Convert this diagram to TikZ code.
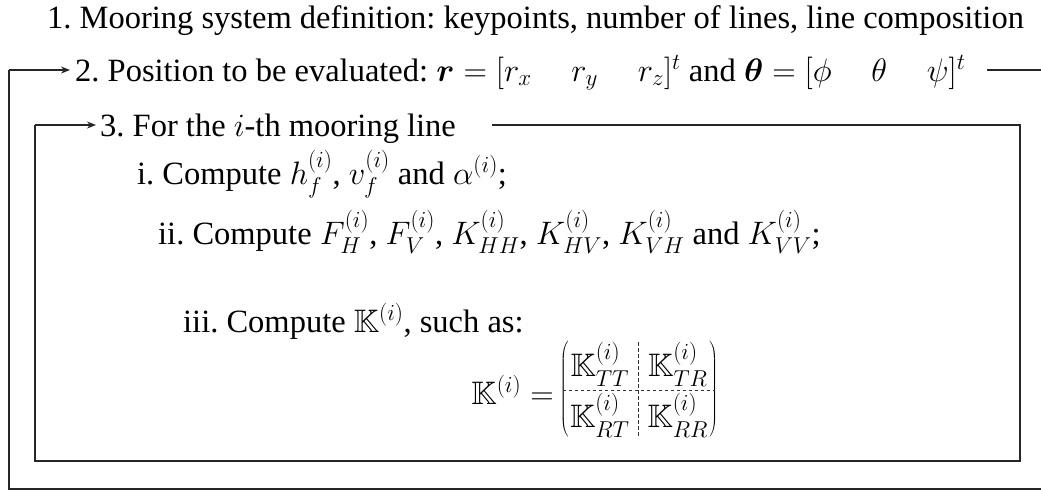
\RequirePackage{fix-cm}
\documentclass[tikz,border=0pt]{standalone}
\usepackage{amsmath,amssymb,bm}
\usepackage{fontspec}
\setmainfont{Liberation Serif}
\usetikzlibrary{arrows.meta,matrix,calc}
\DeclareMathSizes{32.5}{32.5}{23}{17}
\frenchspacing
\newcommand{\gap}{\mkern22mu}
\begin{document}
\begin{tikzpicture}[x=1pt,y=-1pt,
  big/.style={font=\fontsize{32.5}{39}\selectfont},
  txt/.style={big,anchor=base west,inner sep=0pt},
  ln/.style={line width=1.6pt,draw=black!85},
  arr/.style={ln,-{Stealth[length=9pt,width=7pt]}},
  dsh/.style={line width=1pt,draw=black!80,dash pattern=on 3.5pt off 2.5pt}]
\useasboundingbox (0,0) rectangle (1041,490);

\node[txt] (s1) at (47,28) {1. Mooring system definition: keypoints, number of lines, line composition};
\node[txt] (s2) at (75,81) {2. Position to be evaluated: $\boldsymbol{r}=[r_x\gap r_y\gap r_z]^t$ and $\boldsymbol{\theta}=[\phi\gap\theta\gap\psi]^t$};
\node[txt] (s3) at (100,136) {3. For the $i$-th mooring line};
\node[txt] (si) at (137,184) {i. Compute $h_f^{(i)}$, $v_f^{(i)}$ and $\alpha^{(i)}$;};
\node[txt] (sii) at (158,244) {ii. Compute $F_H^{(i)}$, $F_V^{(i)}$, $K_{HH}^{(i)}$, $K_{HV}^{(i)}$, $K_{VH}^{(i)}$ and $K_{VV}^{(i)}$;};
\node[txt] (siii) at (183,332) {iii. Compute $\mathbb{K}^{(i)}$, such as:};

\matrix (M) [matrix of math nodes, big, left delimiter=(, right delimiter=),
  column sep=18pt, row sep=7pt, inner sep=0pt] at (639,390) {
  \mathbb{K}^{(i)}_{TT} & \mathbb{K}^{(i)}_{TR} \\
  \mathbb{K}^{(i)}_{RT} & \mathbb{K}^{(i)}_{RR} \\
};
\node[big,anchor=east,inner sep=0pt] (klab) at ([xshift=-16pt]M.west) {$\mathbb{K}^{(i)}=$};

\coordinate (mh) at ($(M-1-1.south)!0.5!(M-2-1.north)$);
\coordinate (mv) at ($(M-1-1.east)!0.5!(M-1-2.west)$);
\coordinate (hl) at ([xshift=-7pt]mh -| M.west);
\coordinate (hr) at ([xshift=7pt]mh -| M.east);
\coordinate (vt) at (mv |- M.north);
\coordinate (vb) at (mv |- M.south);
\draw[dsh] (hl) -- (hr);
\draw[dsh] (vt) -- (vb);

% inner loop
\coordinate (i1) at (492,125);
\coordinate (i2) at (1020,125);
\coordinate (i3) at (1020,461);
\coordinate (i4) at (35,461);
\draw[ln] (i1) -- (i2) -- (i3) -- (i4) -- (35,125);
\draw[arr] (35,125) -- ([xshift=-4pt,yshift=11pt]s3.base west);

% outer loop
\coordinate (o1) at (987,70);
\coordinate (o2) at (1044,70);
\coordinate (o3) at (1044,489);
\coordinate (o4) at (9,489);
\draw[ln] (o1) -- (o2) -- (o3) -- (o4) -- (9,70);
\draw[arr] (9,70) -- ([xshift=-5pt,yshift=11pt]s2.base west);
\end{tikzpicture}
\end{document}
